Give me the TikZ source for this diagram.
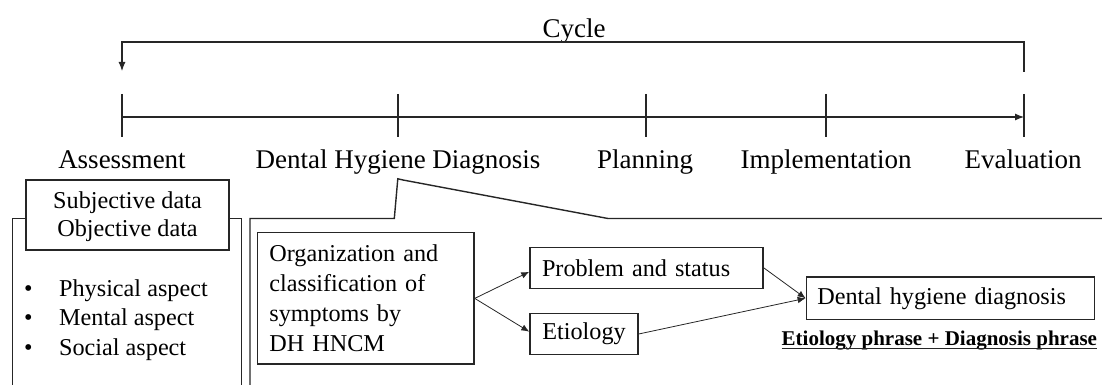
\documentclass[tikz,border=0pt]{standalone}
\usepackage{fontspec}
\setmainfont{Liberation Serif}
\usetikzlibrary{arrows.meta}
\begin{document}
\begin{tikzpicture}[x=1pt,y=-1pt,
  ink/.style={draw=black!85},
  axisline/.style={ink, line width=1.1pt},
  panel/.style={ink, line width=1.4pt},
  thinline/.style={ink, line width=0.8pt},
  tipbig/.style={-{Latex[length=9pt,width=7pt]}},
  tipsmall/.style={-{Latex[length=8pt,width=6.5pt]}},
  lbl/.style={anchor=base, inner sep=0pt, font=\fontsize{27}{30}\selectfont},
  txt/.style={inner sep=0pt, font=\fontsize{24.2}{30}\selectfont},
  box/.style={ink, line width=1.4pt, fill=white, font=\fontsize{24.2}{30}\selectfont, inner ysep=0pt}
]
\useasboundingbox (0,0) rectangle (1102,385);
\clip (0,0) rectangle (1102,385);

% cycle bracket
\node[lbl] (cycle) at (574,38) {Cycle};
\coordinate (cl) at (122,71);
\coordinate (ctl) at (122,42);
\coordinate (ctr) at (1024,42);
\coordinate (cr) at (1024,72);
\draw[axisline, tipbig] (cr) -- (ctr) -- (ctl) -- (cl);

% axis
\coordinate (a1) at (122,117);
\coordinate (a2) at (398,117);
\coordinate (a3) at (646,117);
\coordinate (a4) at (826,117);
\coordinate (a5) at (1024,117);
\coordinate (ttop) at (0,94);
\coordinate (tbot) at (0,137);
\draw[axisline, tipbig] (a1) -- (a5);
\foreach \t in {a1,a2,a3,a4,a5}{\draw[axisline] (\t |- ttop) -- (\t |- tbot);}

% stage labels
\node[lbl] (ass) at (122,168) {Assessment};
\node[lbl] (dhdlbl) at (398,168) {Dental Hygiene Diagnosis};
\node[lbl] (plan) at (645,168) {Planning};
\node[lbl] (impl) at (826,168) {Implementation};
\node[lbl] (eval) at (1023,168) {Evaluation};

% left panel
\draw[panel] (12.5,395) -- (12.5,218.5) -- (241.5,218.5) -- (241.5,395);
\node[box, minimum width=203pt, minimum height=70pt, align=center, font=\fontsize{24.2}{28}\selectfont] (subj) at (127.5,215) {\rule{0pt}{20.2pt}Subjective data\\Objective data};
\node[txt, anchor=base west] (phys) at (24,296) {\makebox[35pt][l]{•}Physical aspect};
\node[txt, anchor=base west] (ment) at (24,325.5) {\makebox[35pt][l]{•}Mental aspect};
\node[txt, anchor=base west] (soc) at (24,355) {\makebox[35pt][l]{•}Social aspect};

% right panel (callout)
\draw[panel] (250,395) -- (250,218.5) -- (394.3,218.5) -- (397.8,178.8) -- (403,180) -- (608,218.5) -- (1110,218.5);

\node[box, minimum width=216.5pt, minimum height=131.3pt, text width=192.8pt, inner xsep=11.8pt, align=left] (org) at (365.8,298.4)
  {Organization and\\classification of\\symptoms by\\DH HNCM};
\node[box, minimum width=233pt, minimum height=41pt, text width=209pt, inner xsep=12pt, align=left] (prob) at (646.5,267.8) {Problem and status};
\node[box, minimum width=108pt, minimum height=41pt, align=center] (etio) at (584,334) {Etiology};
\node[box, minimum width=288pt, minimum height=42.5pt, text width=266pt, inner xsep=11pt, align=left] (dhd) at (950.3,298.3) {Dental hygiene diagnosis};

\draw[thinline, tipsmall] (org.east) -- ([yshift=-4pt]prob.west);
\draw[thinline, tipsmall] (org.east) -- ([yshift=2.3pt]etio.west);
\draw[thinline, tipsmall] (prob.east) -- (dhd.west);
\draw[thinline, tipsmall] (etio.east) -- (dhd.west);

\node[anchor=base west, inner sep=0pt, font=\bfseries\fontsize{21}{24}\selectfont] (phrase) at (781.5,345) {Etiology phrase + Diagnosis phrase};
\draw[ink, line width=1pt] ([yshift=-3.5pt]phrase.base west) -- ([yshift=-3.5pt]phrase.base east);
\end{tikzpicture}
\end{document}
